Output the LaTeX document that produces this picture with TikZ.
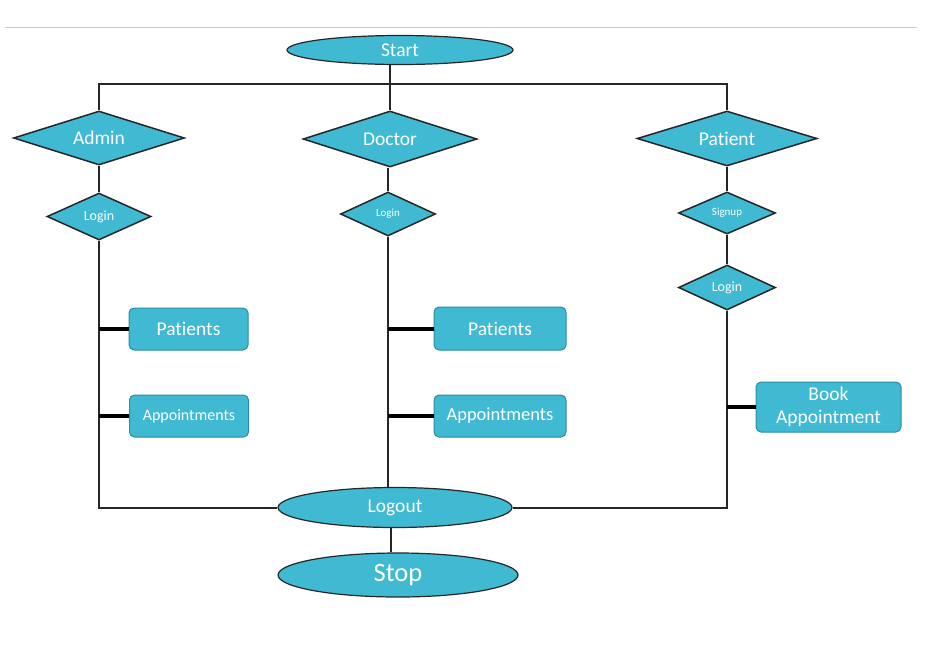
\documentclass[tikz,border=0pt]{standalone}
\usepackage{fontspec}
\setmainfont[Ligatures={NoCommon}]{Carlito}
\usetikzlibrary{shapes.geometric}
\definecolor{flowfill}{HTML}{40B9D3}
\definecolor{boxedge}{HTML}{2B8DA3}

\begin{document}
\begin{tikzpicture}[x=1pt,y=-1pt,
    terminal/.style={ellipse,draw=black!85,line width=1.2pt,fill=flowfill,text=white,inner sep=0pt},
    decision/.style={diamond,draw=black!85,line width=1.5pt,fill=flowfill,text=white,inner sep=0pt,shape aspect=2.5},
    menubox/.style={rectangle,rounded corners=5pt,draw=boxedge,line width=1pt,fill=flowfill,text=white,align=center,inner sep=0pt},
    link/.style={draw=black!85,line width=2pt},
    stub/.style={draw=black,line width=4pt},
    big/.style={font=\fontsize{19.5}{23}\selectfont},
    small/.style={font=\fontsize{14}{16}\selectfont}]
    \useasboundingbox (0,0) rectangle (934,646);
    \draw[black!20,line width=1pt] (5,27) -- (917,27);
    \node[terminal,big,minimum width=226,minimum height=29] (start) at (400,50) {Start};
    \node[decision,big,minimum width=171,minimum height=54] (admin) at (99,138) {Admin};
    \node[decision,big,minimum width=174,minimum height=56] (doctor) at (390,139) {Doctor};
    \node[decision,big,minimum width=180,minimum height=55] (patient) at (727,138.5) {Patient};
    \node[decision,small,minimum width=104,minimum height=47] (adminlogin) at (99,216.5) {Login};
    \node[decision,font=\fontsize{11}{13}\selectfont,minimum width=95,minimum height=44] (doclogin) at (388,214) {Login};
    \node[decision,font=\fontsize{11}{13}\selectfont,minimum width=97,minimum height=42] (signup) at (727,213) {Signup};
    \node[decision,small,minimum width=97,minimum height=45] (patlogin) at (727,287.5) {Login};
    \node[menubox,big,minimum width=119,minimum height=42] (adminpatients) at (188.5,329) {Patients};
    \node[menubox,font=\fontsize{16}{19}\selectfont,minimum width=119,minimum height=42] (adminappts) at (189,416) {Appointments};
    \node[menubox,big,minimum width=132,minimum height=43] (docpatients) at (500,328.5) {Patients};
    \node[menubox,font=\fontsize{18.5}{22}\selectfont,minimum width=132,minimum height=42] (docappts) at (500,416) {Appointments};
    \node[menubox,big,minimum width=145,minimum height=50] (book) at (828.5,407) {Book\\Appointment};
    \node[terminal,big,minimum width=234,minimum height=40] (logout) at (395,507.5) {Logout};
    \node[terminal,font=\fontsize{26.5}{30}\selectfont,minimum width=240,minimum height=44] (stop) at (398,575) {Stop};
    \draw[link] (doctor.north) -- (doctor.north |- start.south);
    \draw[link] (admin.north) |- (patient.north |- 0,84) -- (patient.north);
    \draw[link] (admin.south) -- (adminlogin.north);
    \draw[link] (doclogin.north) -- (doclogin.north |- doctor.south);
    \draw[link] (patient.south) -- (signup.north);
    \draw[link] (signup.south) -- (patlogin.north);
    \draw[link] (adminlogin.south) |- (logout.west);
    \draw[link] (doclogin.south) -- (doclogin.south |- logout.north);
    \draw[link] (patlogin.south) |- (logout.east);
    \draw[link] (logout.south -| 391,0) -- (stop.north -| 391,0);
    \draw[stub] (adminpatients.west) -- (adminpatients.west -| adminlogin.south);
    \draw[stub] (adminappts.west) -- (adminappts.west -| adminlogin.south);
    \draw[stub] (docpatients.west) -- (docpatients.west -| doclogin.south);
    \draw[stub] (docappts.west) -- (docappts.west -| doclogin.south);
    \draw[stub] (book.west) -- (book.west -| patlogin.south);
  \end{tikzpicture}
\end{document}
